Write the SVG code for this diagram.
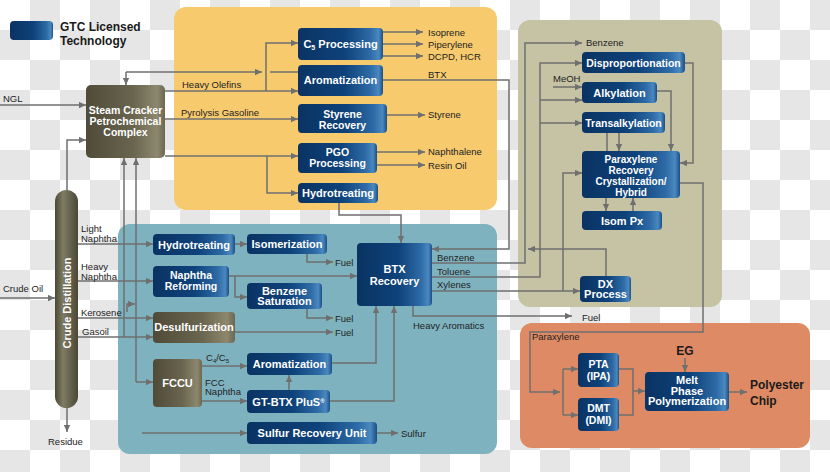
<svg xmlns="http://www.w3.org/2000/svg" width="830" height="472" viewBox="0 0 830 472">
<defs>
<pattern id="chk" width="60" height="60" patternUnits="userSpaceOnUse"><rect width="60" height="60" fill="#ffffff"/><rect x="30" width="30" height="30" fill="#e6e6e6"/><rect y="30" width="30" height="30" fill="#e6e6e6"/></pattern>
<linearGradient id="gBlue" x1="0" y1="0" x2="1" y2="0"><stop offset="0" stop-color="#0a3363"/><stop offset="0.55" stop-color="#0e427a"/><stop offset="0.85" stop-color="#2d6aa6"/><stop offset="0.95" stop-color="#4a88c0"/><stop offset="1" stop-color="#1b4e85"/></linearGradient>
<linearGradient id="gBrown" x1="0" y1="0" x2="1" y2="0"><stop offset="0" stop-color="#4f4b38"/><stop offset="0.6" stop-color="#6a654f"/><stop offset="0.9" stop-color="#8c876d"/><stop offset="1" stop-color="#6c6751"/></linearGradient>
<linearGradient id="gCol" x1="0" y1="0" x2="1" y2="0"><stop offset="0" stop-color="#4a4835"/><stop offset="0.35" stop-color="#807c63"/><stop offset="0.65" stop-color="#666350"/><stop offset="1" stop-color="#4a4835"/></linearGradient>
<marker id="ah" viewBox="0 0 10 10" refX="10" refY="5" markerWidth="7" markerHeight="7" markerUnits="userSpaceOnUse" orient="auto"><path d="M0,0.5 L10,5 L0,9.5 z" fill="#6f6f6f"/></marker>
<style>
.bx{fill:url(#gBlue)}
.br{fill:url(#gBrown)}
.bt{font-family:'Liberation Sans',Arial,sans-serif;font-weight:bold;font-size:11px;fill:#ffffff;text-anchor:middle}
.bm{font-size:10.5px}
.bs{font-size:10px}
.lb{font-family:'Liberation Sans',Arial,sans-serif;font-size:9.5px;fill:#222222}
.hd{font-family:'Liberation Sans',Arial,sans-serif;font-weight:bold;font-size:12px;fill:#1a1a1a}
.ln{fill:none;stroke:#6f6f6f;stroke-width:1.5}
.ar{marker-end:url(#ah)}
</style>
</defs>
<rect width="830" height="472" fill="url(#chk)"/>
<g id="panels">
<rect x="174" y="7" width="323" height="203" rx="12" fill="#f7ca6e"/>
<rect x="518" y="20" width="204" height="287" rx="12" fill="#c6c3a5"/>
<rect x="118" y="224" width="379" height="230" rx="12" fill="#7eb2bf"/>
<rect x="520" y="323" width="290" height="125" rx="12" fill="#de8a65"/>
</g>
<g id="legend">
<rect x="10" y="21" width="43" height="19" rx="4" class="bx"/>
<text x="60" y="31" class="hd" font-size="11.5">GTC Licensed</text>
<text x="60" y="45" class="hd" font-size="11.5">Technology</text>
</g>
<g id="connectors">
<path class="ln ar" d="M0 105H86"/>
<path class="ln ar" d="M67 190V140H86"/>
<path class="ln ar" d="M126 72H262"/>
<path class="ln ar" d="M126 72V85"/>
<path class="ln" d="M270 72H298"/>
<path class="ln ar" d="M165 91H298"/>
<path class="ln ar" d="M266 91V43H298"/>
<path class="ln ar" d="M165 119H298"/>
<path class="ln ar" d="M165 156H298"/>
<path class="ln ar" d="M267 156V193H298"/>
<path class="ln ar" d="M383 32H423"/>
<path class="ln ar" d="M383 44H423"/>
<path class="ln ar" d="M383 56H423"/>
<path class="ln ar" d="M383 80H509V249H432"/>
<path class="ln ar" d="M387 115H425"/>
<path class="ln ar" d="M377 152H425"/>
<path class="ln ar" d="M377 165H425"/>
<path class="ln ar" d="M339 203V215H401V243"/>
<path class="ln ar" d="M78 244H153"/>
<path class="ln ar" d="M235 244H247"/>
<path class="ln ar" d="M307 254V262H333"/>
<path class="ln ar" d="M78 281H153"/>
<path class="ln ar" d="M229 276H357"/>
<path class="ln ar" d="M235 276V297H247"/>
<path class="ln ar" d="M307 309V318H333"/>
<path class="ln ar" d="M235 332H333"/>
<path class="ln ar" d="M78 318H153"/>
<path class="ln ar" d="M78 337H153"/>
<path class="ln ar" d="M124 337V158"/>
<path class="ln ar" d="M136 382V158"/>
<path class="ln ar" d="M136 382H153"/>
<path class="ln ar" d="M127 312V304H135"/>
<path class="ln ar" d="M202 366H247"/>
<path class="ln ar" d="M202 401H247"/>
<path class="ln ar" d="M289 390V375"/>
<path class="ln ar" d="M332 363H376V306"/>
<path class="ln ar" d="M330 401H394V306"/>
<path class="ln ar" d="M142 433H247"/>
<path class="ln ar" d="M377 433H398"/>
<path class="ln ar" d="M413 306V316H572"/>
<path class="ln ar" d="M432 263H525V43H582"/>
<path class="ln ar" d="M432 277H540V63H582"/>
<path class="ln ar" d="M540 100H582"/>
<path class="ln ar" d="M540 123H582"/>
<path class="ln ar" d="M553 87H582"/>
<path class="ln ar" d="M432 291H580"/>
<path class="ln ar" d="M563 291V173H582"/>
<path class="ln ar" d="M606 276V249H528"/>
<path class="ln ar" d="M685 63H693V163H680"/>
<path class="ln ar" d="M657 91H671V151"/>
<path class="ln" d="M607 133V151"/>
<path class="ln ar" d="M619 133V151"/>
<path class="ln ar" d="M606 198V211"/>
<path class="ln ar" d="M633 211V198"/>
<path class="ln ar" d="M680 183H703V332H530V392H560"/>
<path class="ln" d="M563 369V415"/>
<path class="ln ar" d="M563 369H578"/>
<path class="ln ar" d="M563 415H578"/>
<path class="ln" d="M619 369H633V415H619"/>
<path class="ln ar" d="M633 391H645"/>
<path class="ln ar" d="M685 358V372"/>
<path class="ln ar" d="M729 392H747"/>
<path class="ln ar" d="M67 408V432"/>
<path class="ln ar" d="M0 298H55"/>
</g>
<g id="labels">
<text x="3" y="102" class="lb" font-size="10.5">NGL</text>
<text x="3" y="292" class="lb" font-size="10.5">Crude Oil</text>
<text x="48" y="445" class="lb" font-size="10">Residue</text>
<text x="182" y="88" class="lb">Heavy Olefins</text>
<text x="181" y="116" class="lb">Pyrolysis Gasoline</text>
<text x="428" y="36" class="lb">Isoprene</text>
<text x="428" y="48" class="lb">Piperylene</text>
<text x="428" y="60" class="lb">DCPD, HCR</text>
<text x="428" y="78" class="lb">BTX</text>
<text x="428" y="118" class="lb">Styrene</text>
<text x="428" y="155" class="lb">Naphthalene</text>
<text x="428" y="169" class="lb">Resin Oil</text>
<text x="81" y="232" class="lb">Light</text>
<text x="81" y="242" class="lb">Naphtha</text>
<text x="81" y="269.5" class="lb">Heavy</text>
<text x="81" y="279.5" class="lb">Naphtha</text>
<text x="81" y="316" class="lb">Kerosene</text>
<text x="82" y="335" class="lb">Gasoil</text>
<text x="335" y="266" class="lb">Fuel</text>
<text x="335" y="322" class="lb">Fuel</text>
<text x="335" y="336" class="lb">Fuel</text>
<text x="437" y="261" class="lb">Benzene</text>
<text x="437" y="274.5" class="lb">Toluene</text>
<text x="437" y="288" class="lb">Xylenes</text>
<text x="413" y="329" class="lb">Heavy Aromatics</text>
<text x="582" y="321" class="lb">Fuel</text>
<text x="206" y="361" class="lb">C<tspan font-size="6" dy="2">4</tspan><tspan dy="-2">/C</tspan><tspan font-size="6" dy="2">5</tspan></text>
<text x="205" y="385.5" class="lb">FCC</text>
<text x="205" y="395" class="lb">Naphtha</text>
<text x="401" y="437" class="lb">Sulfur</text>
<text x="586" y="46" class="lb">Benzene</text>
<text x="553" y="82" class="lb" font-size="8">MeOH</text>
<text x="532" y="340" class="lb">Paraxylene</text>
<text x="685" y="355" class="hd" text-anchor="middle">EG</text>
<text x="750" y="389" class="hd">Polyester</text>
<text x="750" y="405" class="hd">Chip</text>
</g>
<g id="steam-cracker">
<rect x="86" y="85" width="79" height="73" rx="5" class="br"/>
<text x="125.5" y="113.5" class="bt bm">Steam Cracker</text>
<text x="125.5" y="124.5" class="bt bm">Petrochemical</text>
<text x="125.5" y="135.5" class="bt bm">Complex</text>
</g>
<g id="crude-distillation">
<rect x="55" y="190" width="23" height="218" rx="11.5" fill="url(#gCol)"/>
<text transform="translate(70.5 303) rotate(-90)" class="bt" font-size="10">Crude Distillation</text>
</g>
<g id="c5-processing">
<rect x="298" y="28" width="85" height="32" rx="4" class="bx"/>
<text x="340.5" y="48" class="bt">C<tspan font-size="7" dy="2">5</tspan><tspan dy="-2"> Processing</tspan></text>
</g>
<g id="aromatization-1">
<rect x="298" y="65" width="85" height="31" rx="4" class="bx"/>
<text x="340.5" y="84" class="bt">Aromatization</text>
</g>
<g id="styrene-recovery">
<rect x="298" y="104" width="89" height="29" rx="4" class="bx"/>
<text x="342.5" y="117.5" class="bt bm">Styrene</text>
<text x="342.5" y="128.5" class="bt bm">Recovery</text>
</g>
<g id="pgo-processing">
<rect x="298" y="143" width="79" height="30" rx="4" class="bx"/>
<text x="337.5" y="155.5" class="bt bm">PGO</text>
<text x="337.5" y="166.5" class="bt bm">Processing</text>
</g>
<g id="hydrotreating-1">
<rect x="298" y="183" width="80" height="20" rx="4" class="bx"/>
<text x="338" y="197" class="bt">Hydrotreating</text>
</g>
<g id="disproportionation">
<rect x="582" y="52" width="103" height="21" rx="4" class="bx"/>
<text x="633.5" y="66.5" class="bt bm">Disproportionation</text>
</g>
<g id="alkylation">
<rect x="582" y="82" width="75" height="21" rx="4" class="bx"/>
<text x="619.5" y="96.5" class="bt">Alkylation</text>
</g>
<g id="transalkylation">
<rect x="582" y="112" width="83" height="21" rx="4" class="bx"/>
<text x="623.5" y="126.5" class="bt bm">Transalkylation</text>
</g>
<g id="paraxylene-recovery">
<rect x="582" y="151" width="98" height="47" rx="4" class="bx"/>
<text x="631" y="162.5" class="bt bs">Paraxylene</text>
<text x="631" y="173.5" class="bt bs">Recovery</text>
<text x="631" y="184.5" class="bt bs">Crystallization/</text>
<text x="631" y="195.5" class="bt bs">Hybrid</text>
</g>
<g id="isom-px">
<rect x="582" y="211" width="80" height="19" rx="4" class="bx"/>
<text x="622" y="224.5" class="bt">Isom Px</text>
</g>
<g id="dx-process">
<rect x="580" y="276" width="51" height="26" rx="4" class="bx"/>
<text x="605.5" y="287.5" class="bt" font-size="9.5">DX</text>
<text x="605.5" y="298" class="bt" font-size="9.5">Process</text>
</g>
<g id="hydrotreating-2">
<rect x="153" y="234" width="82" height="21" rx="4" class="bx"/>
<text x="194" y="248.5" class="bt">Hydrotreating</text>
</g>
<g id="isomerization">
<rect x="247" y="234" width="80" height="20" rx="4" class="bx"/>
<text x="287" y="248" class="bt">Isomerization</text>
</g>
<g id="naphtha-reforming">
<rect x="153" y="266" width="76" height="31" rx="4" class="bx"/>
<text x="191" y="279" class="bt bm">Naphtha</text>
<text x="191" y="290" class="bt bm">Reforming</text>
</g>
<g id="benzene-saturation">
<rect x="247" y="283" width="75" height="26" rx="4" class="bx"/>
<text x="284.5" y="294.5" class="bt" font-size="9.5">Benzene</text>
<text x="284.5" y="305" class="bt" font-size="9.5">Saturation</text>
</g>
<g id="btx-recovery">
<rect x="357" y="243" width="75" height="63" rx="4" class="bx"/>
<text x="394.5" y="273" class="bt">BTX</text>
<text x="394.5" y="284.5" class="bt">Recovery</text>
</g>
<g id="desulfurization">
<rect x="153" y="312" width="82" height="31" rx="4" class="br"/>
<text x="194" y="330.5" class="bt">Desulfurization</text>
</g>
<g id="fccu">
<rect x="153" y="359" width="49" height="48" rx="4" class="br"/>
<text x="177.5" y="387" class="bt">FCCU</text>
</g>
<g id="aromatization-2">
<rect x="247" y="353" width="85" height="22" rx="4" class="bx"/>
<text x="289.5" y="367.5" class="bt">Aromatization</text>
</g>
<g id="gt-btx-plus">
<rect x="247" y="390" width="83" height="23" rx="4" class="bx"/>
<text x="288.5" y="406" class="bt">GT-BTX PluS<tspan font-size="6" dy="-3">®</tspan></text>
</g>
<g id="sulfur-recovery-unit">
<rect x="247" y="422" width="130" height="22" rx="4" class="bx"/>
<text x="312" y="437" class="bt">Sulfur Recovery Unit</text>
</g>
<g id="pta">
<rect x="578" y="353" width="41" height="34" rx="4" class="bx"/>
<text x="598.5" y="368" class="bt bm">PTA</text>
<text x="598.5" y="379.5" class="bt bm">(IPA)</text>
</g>
<g id="dmt">
<rect x="578" y="398" width="41" height="33" rx="4" class="bx"/>
<text x="598.5" y="412" class="bt bm">DMT</text>
<text x="598.5" y="423.5" class="bt bm">(DMI)</text>
</g>
<g id="melt-phase-polymerization">
<rect x="645" y="372" width="84" height="39" rx="4" class="bx"/>
<text x="687" y="384" class="bt" font-size="9.5">Melt</text>
<text x="687" y="394.5" class="bt" font-size="9.5">Phase</text>
<text x="687" y="405" class="bt" font-size="9.5">Polymerization</text>
</g>
</svg>
